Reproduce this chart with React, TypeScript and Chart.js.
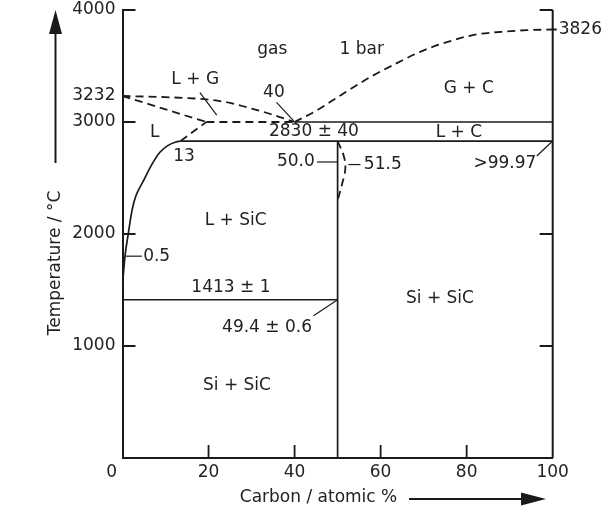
import React, { useEffect, useRef } from 'react';
import { Chart, registerables } from 'chart.js';

Chart.register(...registerables);

// ---- axis ticks ----
const xTickValues = [0, 20, 40, 60, 80, 100];
const yTickValues = [1000, 2000, 3000, 3232, 4000];
const leftInnerTicks = [1000, 2000, 3000, 4000];
const bottomInnerTicks = [20, 40, 60, 80];
const rightInnerTicks = [1000, 2000, 4000];
const rightLabelValue = 3826;

// ---- phase boundaries: [carbon / atomic %, temperature / °C] ----
const liquidusSiC = [[0.05, 1568], [0.58, 1802], [1.35, 2004], [2.2, 2209], [3.1, 2339], [4.8, 2470], [6.9, 2626], [8.7, 2730], [10.6, 2791], [12.4, 2822], [13.5, 2830]];
const peritecticLine = [[13.5, 2830], [100, 2830]];
const upperLine = [[40, 3000], [100, 3000]];
const eutecticLine = [[0, 1413], [50, 1413]];
const sicLine = [[50, 0], [50, 2830]];
const rightBorder = [[100, 0], [100, 4000]];
const gasLiquidUpper = [[0, 3232], [10, 3222], [20, 3200], [25, 3170], [30, 3120], [35, 3065], [40, 3000]];
const gasLiquidLower = [[0, 3232], [19.5, 3000]];
const threePhaseDashed = [[19.5, 3000], [40, 3000]];
const liquidusToGas = [[13.5, 2830], [19.5, 3000]];
const sublimation1bar = [[40, 3000], [45, 3100], [52, 3270], [58, 3410], [64, 3530], [70, 3640], [76, 3720], [82, 3780], [88, 3805], [94, 3820], [100, 3826]];
const sicSolvus = [[50, 2830], [51.4, 2700], [51.8, 2585], [51, 2440], [50, 2300]];

// ---- leader lines ----
const leaderLG = [[18.0, 3262], [21.9, 3062]];
const leader40 = [[35.8, 3176], [39.8, 3010]];
const leader500 = [[45.2, 2643], [50, 2643]];
const leader515 = [[52.5, 2620], [55.3, 2620]];
const leader05 = [[0.8, 1802], [4.5, 1802]];
const leader494 = [[44.4, 1270], [50, 1413]];
const leader9997 = [[96.3, 2696], [100, 2830]];

// ---- annotation texts ----
const labelTexts = ['gas', '1 bar', 'L + G', '40', 'G + C', 'L', '2830 ± 40', 'L + C', '13', '50.0', '51.5', '>99.97', 'L + SiC', '0.5', '1413 ± 1', '49.4 ± 0.6', 'Si + SiC', 'Si + SiC'];
const labelX = [34.8, 55.6, 16.9, 35.2, 80.5, 7.5, 44.5, 78.2, 14.3, 44.7, 56.1, 88.9, 26.3, 4.8, 25.2, 33.6, 73.8, 26.6];
const labelY = [3644, 3647, 3375, 3262, 3295, 2910, 2915, 2905, 2687, 2643, 2620, 2629, 2122, 1802, 1525, 1164, 1423, 643];
const labelAlign = ['center', 'center', 'center', 'center', 'center', 'center', 'center', 'center', 'center', 'right', 'left', 'center', 'center', 'left', 'center', 'center', 'center', 'center'];

const xTitle = 'Carbon / atomic %';
const yTitle = 'Temperature / °C';

const INK = '#1a1a1a';
const TEXT = '#222222';
const FONT = "17px 'DejaVu Sans'";

function ds(points: number[][], opts: any = {}) {
  return {
    data: points.map(([x, y]) => ({ x, y })),
    showLine: true,
    pointRadius: 0,
    pointHoverRadius: 0,
    borderColor: INK,
    backgroundColor: INK,
    borderWidth: 1.7,
    fill: false,
    clip: false,
    ...opts,
  };
}

const dashed = { borderDash: [8, 5], borderWidth: 1.8 };
const leader = { borderWidth: 1.2 };

const decorPlugin = {
  id: 'decor',
  afterDraw(chart: any) {
    const ctx = chart.ctx;
    const xs = chart.scales.x;
    const ys = chart.scales.y;
    const area = chart.chartArea;
    ctx.save();
    ctx.strokeStyle = INK;
    ctx.lineWidth = 1.8;
    ctx.beginPath();
    for (const v of leftInnerTicks) {
      const y = ys.getPixelForValue(v);
      ctx.moveTo(area.left, y);
      ctx.lineTo(area.left + 13, y);
    }
    for (const v of bottomInnerTicks) {
      const x = xs.getPixelForValue(v);
      ctx.moveTo(x, area.bottom);
      ctx.lineTo(x, area.bottom - 13);
    }
    const xr = xs.getPixelForValue(100);
    for (const v of rightInnerTicks) {
      const y = ys.getPixelForValue(v);
      ctx.moveTo(xr, y);
      ctx.lineTo(xr - 13, y);
    }
    const y3826 = ys.getPixelForValue(rightLabelValue);
    ctx.moveTo(xr, y3826);
    ctx.lineTo(xr + 4, y3826);
    ctx.stroke();

    ctx.fillStyle = TEXT;
    ctx.font = FONT;
    ctx.textBaseline = 'middle';
    ctx.textAlign = 'left';
    ctx.fillText(String(rightLabelValue), xr + 6, y3826);

    for (let i = 0; i < labelTexts.length; i++) {
      ctx.textAlign = labelAlign[i];
      ctx.fillText(labelTexts[i], xs.getPixelForValue(labelX[i]), ys.getPixelForValue(labelY[i]));
    }

    // x axis title + arrow
    ctx.textAlign = 'center';
    ctx.fillText(xTitle, 318.5, 498);
    ctx.lineWidth = 2;
    ctx.beginPath();
    ctx.moveTo(409, 499);
    ctx.lineTo(526, 499);
    ctx.stroke();
    ctx.fillStyle = INK;
    ctx.beginPath();
    ctx.moveTo(546, 499);
    ctx.lineTo(521, 492.5);
    ctx.lineTo(521, 505.5);
    ctx.closePath();
    ctx.fill();

    // y axis title + arrow
    ctx.fillStyle = TEXT;
    ctx.save();
    ctx.translate(55.5, 263);
    ctx.rotate(-Math.PI / 2);
    ctx.textAlign = 'center';
    ctx.fillText(yTitle, 0, 0);
    ctx.restore();
    ctx.beginPath();
    ctx.moveTo(55.5, 163);
    ctx.lineTo(55.5, 30);
    ctx.stroke();
    ctx.fillStyle = INK;
    ctx.beginPath();
    ctx.moveTo(55.5, 10);
    ctx.lineTo(49, 34);
    ctx.lineTo(62, 34);
    ctx.closePath();
    ctx.fill();
    ctx.restore();
  },
};

export default function App() {
  const ref = useRef<HTMLCanvasElement>(null);
  useEffect(() => {
    const chart = new Chart(ref.current!, {
      type: 'scatter',
      data: {
        datasets: [
          ds(liquidusSiC, { cubicInterpolationMode: 'monotone' }),
          ds(peritecticLine),
          ds(upperLine),
          ds(eutecticLine),
          ds(sicLine),
          ds(rightBorder, { borderWidth: 2 }),
          ds(gasLiquidUpper, { ...dashed, cubicInterpolationMode: 'monotone' }),
          ds(gasLiquidLower, dashed),
          ds(threePhaseDashed, dashed),
          ds(liquidusToGas, dashed),
          ds(sublimation1bar, { ...dashed, cubicInterpolationMode: 'monotone' }),
          ds(sicSolvus, { ...dashed, tension: 0.4 }),
          ds(leaderLG, leader),
          ds(leader40, leader),
          ds(leader500, leader),
          ds(leader515, leader),
          ds(leader05, leader),
          ds(leader494, leader),
          ds(leader9997, leader),
        ],
      } as any,
      options: {
        responsive: false,
        animation: false,
        events: [],
        layout: { padding: { top: 10, right: 55.3, left: 0, bottom: 0 } },
        plugins: { legend: { display: false }, tooltip: { enabled: false } },
        scales: {
          x: {
            type: 'linear',
            position: 'bottom',
            min: 0,
            max: 100,
            grid: { display: false, drawTicks: false },
            border: { display: true, color: INK, width: 2 },
            ticks: {
              padding: 4,
              color: TEXT,
              font: { family: 'DejaVu Sans', size: 17 },
              maxRotation: 0,
              callback: (v: any) => (v === 0 ? '0\u2007\u2007' : String(v)),
            },
            afterBuildTicks: (s: any) => {
              s.ticks = xTickValues.map((v) => ({ value: v }));
            },
            afterFit: (s: any) => {
              s.height = 51;
              s.paddingLeft = 0;
              s.paddingRight = 0;
            },
          },
          y: {
            type: 'linear',
            position: 'left',
            min: 0,
            max: 4000,
            grid: { display: false, drawTicks: false },
            border: { display: true, color: INK, width: 2 },
            ticks: {
              padding: 7,
              color: TEXT,
              font: { family: 'DejaVu Sans', size: 17 },
              callback: (v: any) => String(v),
            },
            afterBuildTicks: (s: any) => {
              s.ticks = yTickValues.map((v) => ({ value: v }));
            },
            afterFit: (s: any) => {
              s.width = 122.5;
              s.paddingTop = 0;
              s.paddingBottom = 0;
            },
          },
        },
      } as any,
      plugins: [decorPlugin],
    });
    return () => chart.destroy();
  }, []);
  return (
    <div style={{ position: 'absolute', left: 0, top: 0, width: 608, height: 509, background: '#ffffff' }}>
      <canvas ref={ref} width={608} height={509} />
    </div>
  );
}
